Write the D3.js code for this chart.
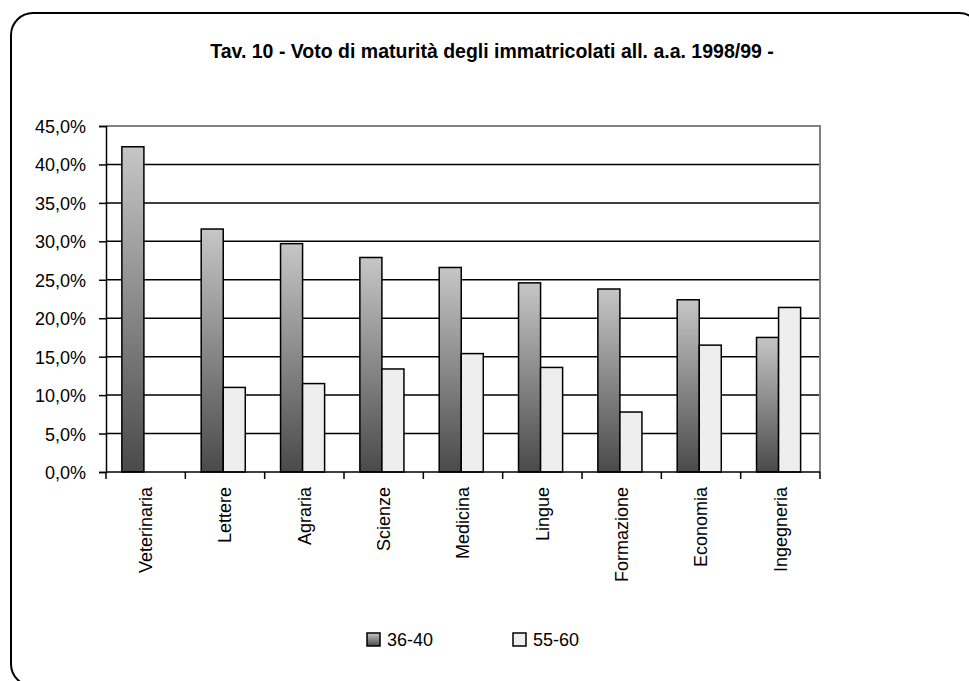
<!DOCTYPE html>
<html>
<head>
<meta charset="utf-8">
<script src="https://cdn.jsdelivr.net/npm/d3@7"></script>
<style>
  body { margin: 0; background: #fff; }
  svg text { font-family: "Liberation Sans", Arial, sans-serif; fill: #000; }
</style>
</head>
<body>
<div id="chart-area"></div>
<script>
const categories = ['Veterinaria', 'Lettere', 'Agraria', 'Scienze', 'Medicina', 'Lingue', 'Formazione', 'Economia', 'Ingegneria'];
const seriesNames = ['36-40', '55-60'];
const values3640 = [42.3, 31.6, 29.7, 27.9, 26.6, 24.6, 23.8, 22.4, 17.5];
const values5560 = [null, 11.0, 11.5, 13.4, 15.4, 13.6, 7.8, 16.5, 21.4];
const yTicks = [0, 5, 10, 15, 20, 25, 30, 35, 40, 45];
const title = 'Tav. 10 - Voto di maturità degli immatricolati all. a.a. 1998/99 -';

const chartSize = { width: 969, height: 681 };
const plot = { left: 106, right: 820, top: 126, bottom: 472 };

const fmt = d => `${d.toFixed(1).replace('.', ',')}%`;

const svg = d3.select('#chart-area').append('svg')
  .attr('width', chartSize.width)
  .attr('height', chartSize.height);

const defs = svg.append('defs');
const grad = defs.append('linearGradient')
  .attr('id', 'darkGrad')
  .attr('x1', 0).attr('y1', 0).attr('x2', 0).attr('y2', 1);
grad.append('stop').attr('offset', '0%').attr('stop-color', '#c6c6c6');
grad.append('stop').attr('offset', '100%').attr('stop-color', '#4a4a4a');

const fills = ['url(#darkGrad)', '#eeeeee'];

// outer frame
svg.append('rect')
  .attr('x', 11).attr('y', 13)
  .attr('width', 970).attr('height', 673)
  .attr('rx', 22).attr('ry', 22)
  .attr('fill', 'none')
  .attr('stroke', '#000')
  .attr('stroke-width', 2);

svg.append('text')
  .attr('x', 492)
  .attr('y', 58)
  .attr('text-anchor', 'middle')
  .style('font-size', '19.5px')
  .style('font-weight', 'bold')
  .text(title);

const x = d3.scaleBand()
  .domain(categories)
  .range([plot.left, plot.right]);

const x1 = d3.scaleBand()
  .domain(seriesNames)
  .range([0, x.bandwidth()])
  .paddingOuter(0.8)
  .align(0.45);

const y = d3.scaleLinear()
  .domain([0, 45])
  .range([plot.bottom, plot.top]);

// grid
svg.append('g')
  .selectAll('line')
  .data(yTicks.filter(t => t > 0 && t < 45))
  .join('line')
  .attr('x1', plot.left).attr('x2', plot.right)
  .attr('y1', d => y(d)).attr('y2', d => y(d))
  .attr('stroke', '#000')
  .attr('stroke-width', 1.5);

// plot border top/right (gray)
svg.append('path')
  .attr('d', `M${plot.left},${y(45)}H${plot.right}V${plot.bottom}`)
  .attr('fill', 'none')
  .attr('stroke', '#808080')
  .attr('stroke-width', 2);

// bars
const series = [values3640, values5560];
const groups = svg.append('g')
  .selectAll('g')
  .data(series)
  .join('g')
  .attr('fill', (d, i) => fills[i]);

groups.selectAll('rect')
  .data((vals, si) => vals.map((v, ci) => ({ v, cat: categories[ci], s: seriesNames[si] })).filter(d => d.v != null))
  .join('rect')
  .attr('x', d => x(d.cat) + x1(d.s))
  .attr('width', x1.bandwidth())
  .attr('y', d => y(d.v))
  .attr('height', d => y(0) - y(d.v))
  .attr('stroke', '#000')
  .attr('stroke-width', 1.5);

// y axis
const yAxis = d3.axisLeft(y)
  .tickValues(yTicks)
  .tickFormat(fmt)
  .tickSize(7)
  .tickPadding(13);

const yG = svg.append('g')
  .attr('transform', `translate(${plot.left},0)`)
  .call(yAxis);
yG.select('.domain').attr('stroke', '#000').attr('stroke-width', 1.5);
yG.selectAll('.tick line').attr('stroke', '#000').attr('stroke-width', 1.5);
yG.attr('font-family', null).attr('font-size', null);
yG.selectAll('text')
  .style('font-size', '18px')
  .attr('dy', '0.36em');

// x axis: ticks at band boundaries
const xG = svg.append('g');
xG.append('line')
  .attr('x1', plot.left).attr('x2', plot.right)
  .attr('y1', plot.bottom).attr('y2', plot.bottom)
  .attr('stroke', '#000').attr('stroke-width', 1.5);
xG.selectAll('.xt')
  .data(categories.concat(['end']))
  .join('line')
  .attr('class', 'xt')
  .attr('x1', (d, i) => i < categories.length ? x(d) : plot.right)
  .attr('x2', (d, i) => i < categories.length ? x(d) : plot.right)
  .attr('y1', plot.bottom).attr('y2', plot.bottom + 7)
  .attr('stroke', '#000').attr('stroke-width', 1.5);

xG.selectAll('.xl')
  .data(categories)
  .join('text')
  .attr('class', 'xl')
  .attr('transform', d => `translate(${x(d) + x.bandwidth() / 2},${plot.bottom + 15}) rotate(-90)`)
  .attr('text-anchor', 'end')
  .attr('dy', '0.36em')
  .style('font-size', '18px')
  .text(d => d);

// legend
const legendX = [367, 513];
const legend = svg.append('g')
  .selectAll('g')
  .data(seriesNames)
  .join('g')
  .attr('transform', (d, i) => `translate(${legendX[i]},633)`);
legend.append('rect')
  .attr('width', 13).attr('height', 13)
  .attr('fill', (d, i) => fills[i])
  .attr('stroke', '#000')
  .attr('stroke-width', 1.5);
legend.append('text')
  .attr('x', 20)
  .attr('y', 7)
  .attr('dy', '0.36em')
  .style('font-size', '18px')
  .text(d => d);
</script>
</body>
</html>
